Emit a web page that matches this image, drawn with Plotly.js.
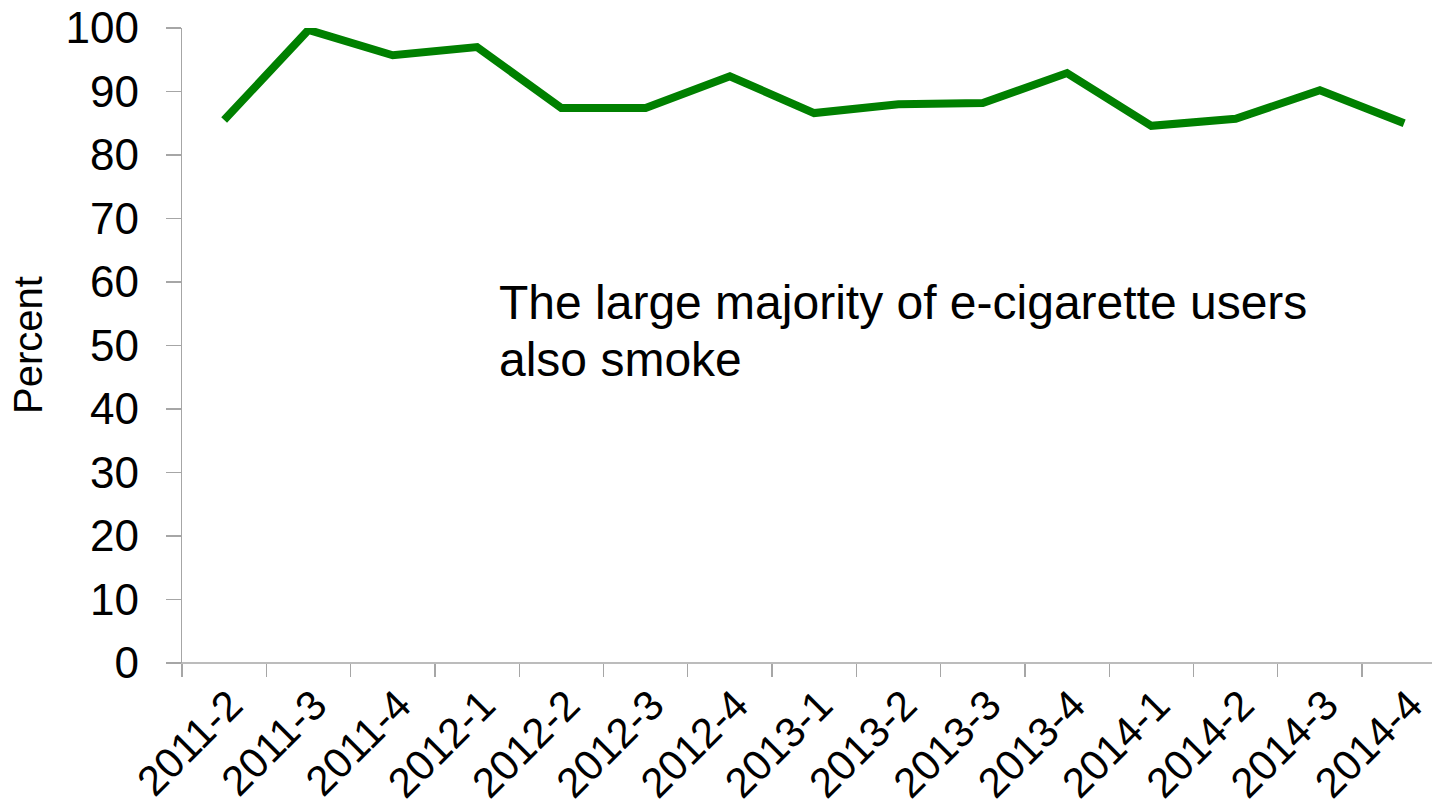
<!DOCTYPE html>
<html>
<head>
<meta charset="utf-8">
<script src="https://cdn.plot.ly/plotly-3.0.1.min.js"></script>
<style>html,body{margin:0;padding:0;background:#fff;}#chart{width:1432px;height:810px;}</style>
</head>
<body>
<div id="chart"></div>
<script>
const quarters = ["2011-2","2011-3","2011-4","2012-1","2012-2","2012-3","2012-4","2013-1","2013-2","2013-3","2013-4","2014-1","2014-2","2014-3","2014-4"];
const percentSmoke = [85.5, 99.7, 95.7, 97.0, 87.4, 87.4, 92.4, 86.6, 88.0, 88.2, 92.9, 84.6, 85.7, 90.2, 85.0];
const yTicks = [0,10,20,30,40,50,60,70,80,90,100];
const noteLines = ["The large majority of e-cigarette users", "also smoke"];
const yTitle = "Percent";

const W = 1432, H = 810;
const mL = 182, mR = 0, mT = 28, mB = 147;
const pw = W - mL - mR, ph = H - mT - mB;
const px = x => (x - mL) / pw;
const py = y => (H - mB - y) / ph;

const font = "Liberation Sans, Arial, sans-serif";

const trace = {
  x: quarters, y: percentSmoke, type: "scatter", mode: "lines",
  line: {color: "#008000", width: 8, shape: "linear"},
  hoverinfo: "skip"
};

const layout = {
  width: W, height: H,
  margin: {l: mL, r: mR, t: mT, b: mB, pad: 0},
  paper_bgcolor: "#fff", plot_bgcolor: "#fff",
  showlegend: false,
  xaxis: {
    type: "category", range: [-0.5, 14.33],
    showgrid: false, zeroline: false, showline: false,
    ticks: "outside", tickson: "boundaries", ticklen: 13, tickwidth: 1.3, tickcolor: "#a6a6a6",
    tickangle: -45, tickfont: {family: font, size: 42, color: "#000"},
    ticklabelstandoff: 8, ticklabelshift: 6,
    fixedrange: true
  },
  yaxis: {
    range: [0, 100], tickvals: yTicks, ticktext: yTicks.map(String),
    showgrid: false, zeroline: false, showline: true, linecolor: "#a6a6a6", linewidth: 1.3,
    ticks: "outside", ticklen: 15, tickwidth: 1.3, tickcolor: "#a6a6a6",
    tickfont: {family: font, size: 44, color: "#000"},
    ticklabelstandoff: 18,
    fixedrange: true
  },
  shapes: [{
    type: "line", xref: "paper", yref: "paper",
    x0: px(167), x1: 1.02, y0: 0, y1: 0,
    line: {color: "#a6a6a6", width: 1.3}
  }],
  annotations: [
    {text: noteLines[0], xref: "paper", yref: "paper", x: px(497), y: py(302), xanchor: "left", yanchor: "middle", showarrow: false, font: {family: font, size: 48, color: "#000"}},
    {text: noteLines[1], xref: "paper", yref: "paper", x: px(497), y: py(359), xanchor: "left", yanchor: "middle", showarrow: false, font: {family: font, size: 48, color: "#000"}},
    {text: yTitle, xref: "paper", yref: "paper", x: px(28), y: py(345), xanchor: "center", yanchor: "middle", textangle: -90, showarrow: false, font: {family: font, size: 40, color: "#000"}}
  ]
};

Plotly.newPlot("chart", [trace], layout, {displayModeBar: false, staticPlot: true});
</script>
</body>
</html>
